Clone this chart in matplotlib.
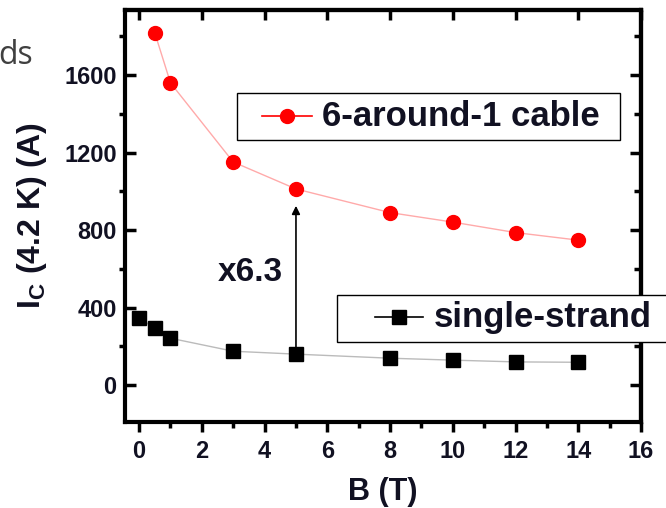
import matplotlib
matplotlib.use("Agg")
import matplotlib.pyplot as plt
from matplotlib.ticker import MultipleLocator, NullLocator
from matplotlib.patches import Rectangle

plt.rcParams['font.family'] = 'Liberation Sans'
plt.rcParams['font.weight'] = 'bold'
plt.rcParams['mathtext.fontset'] = 'custom'
plt.rcParams['mathtext.rm'] = 'Liberation Sans:bold'
plt.rcParams['mathtext.bf'] = 'Liberation Sans:bold'

# critical current vs field
b_cable = [0.5, 1, 3, 5, 8, 10, 12, 14]
ic_cable = [1817, 1559, 1151, 1012, 890, 841, 787, 748]

b_strand = [0, 0.5, 1, 3, 5, 8, 10, 12, 14]
ic_strand = [346, 294, 242, 175, 160, 139, 129, 120, 118]

labels = ['6-around-1 cable', 'single-strand']
ratio_label = "x6.3"
ink = '#111122'

fig = plt.figure(figsize=(6.66, 5.08), dpi=100)
ax = fig.add_axes([0.1877, 0.1693, 0.7748, 0.8110])

ax.plot(b_cable, ic_cable, color='#ffaaaa', lw=1, marker='o', ms=10,
        mfc='#ff0000', mec='#ff0000')
ax.plot(b_strand, ic_strand, color='#bbbbbb', lw=1, marker='s', ms=10,
        mfc='black', mec='black')

ax.annotate('', xy=(b_strand[4], 925), xytext=(b_strand[4], ic_strand[4]),
            arrowprops=dict(arrowstyle='-|>', color='black', lw=1.2,
                            mutation_scale=12, shrinkA=0, shrinkB=0))
ax.text(3.55, 583, ratio_label, fontsize=24, fontweight='bold', color=ink,
        ha='center', va='center')

ax.set_xlim(-0.45, 16)
ax.set_ylim(-190, 1935)

ax.xaxis.set_major_locator(MultipleLocator(2))
ax.xaxis.set_minor_locator(MultipleLocator(1))
ax.yaxis.set_major_locator(MultipleLocator(400))
ax.yaxis.set_minor_locator(MultipleLocator(200))

for s in ax.spines.values():
    s.set_linewidth(3)

ax.tick_params(axis='x', which='major', direction='out', length=7, width=2.5,
               labelsize=17, colors='black', labelcolor=ink, pad=6)
ax.tick_params(axis='x', which='minor', direction='out', length=4.5, width=2.5)
ax.tick_params(axis='y', which='major', direction='in', length=8, width=2.5,
               labelsize=17, colors='black', labelcolor=ink, pad=6)
ax.tick_params(axis='y', which='minor', direction='out', length=4, width=2.5)

top = ax.secondary_xaxis('top')
top.xaxis.set_major_locator(MultipleLocator(2))
top.xaxis.set_minor_locator(NullLocator())
top.tick_params(which='major', direction='in', length=7, width=2.5, labeltop=False)
top.spines['top'].set_linewidth(3)

right = ax.secondary_yaxis('right')
right.yaxis.set_major_locator(MultipleLocator(400))
right.yaxis.set_minor_locator(MultipleLocator(200))
right.tick_params(which='major', direction='in', length=8, width=2.5, labelright=False)
right.tick_params(which='minor', direction='in', length=5, width=2.5)
right.spines['right'].set_linewidth(3)

ax.set_xlabel('B (T)', fontsize=22, fontweight='bold', color=ink, labelpad=10)
ax.set_ylabel(r'I$_\mathregular{C}$ (4.2 K) (A)', fontsize=23, fontweight='bold',
              color=ink, labelpad=11)

# boxed keys, drawn by hand so they can sit over the right spine
def key(box, seg, y, tx, color, marker, text):
    x0, x1, y0, y1 = box
    ax.add_patch(Rectangle((x0, y0), x1 - x0, y1 - y0, transform=ax.transAxes,
                           fc='white', ec='black', lw=1, clip_on=False, zorder=5))
    ax.plot(seg, [y, y], color=color, lw=1.2, transform=ax.transAxes,
            clip_on=False, zorder=6)
    ax.plot([sum(seg) / 2], [y], marker=marker, ms=10, color=color,
            transform=ax.transAxes, clip_on=False, zorder=6)
    ax.text(tx, y, text, fontsize=25, fontweight='bold', color=ink,
            transform=ax.transAxes, ha='left', va='center', zorder=7)

key((0.217, 0.959, 0.684, 0.799), (0.266, 0.362), 0.742, 0.382,
    'red', 'o', labels[0])
key((0.411, 1.06, 0.194, 0.308), (0.484, 0.577), 0.254, 0.599,
    'black', 's', labels[1])

fig.text(-0.002, 0.875, 'ds', fontsize=23, fontweight='normal',
         family='Open Sans', color='#404040', ha='left', va='baseline')

fig.savefig('out.png', dpi=100)
